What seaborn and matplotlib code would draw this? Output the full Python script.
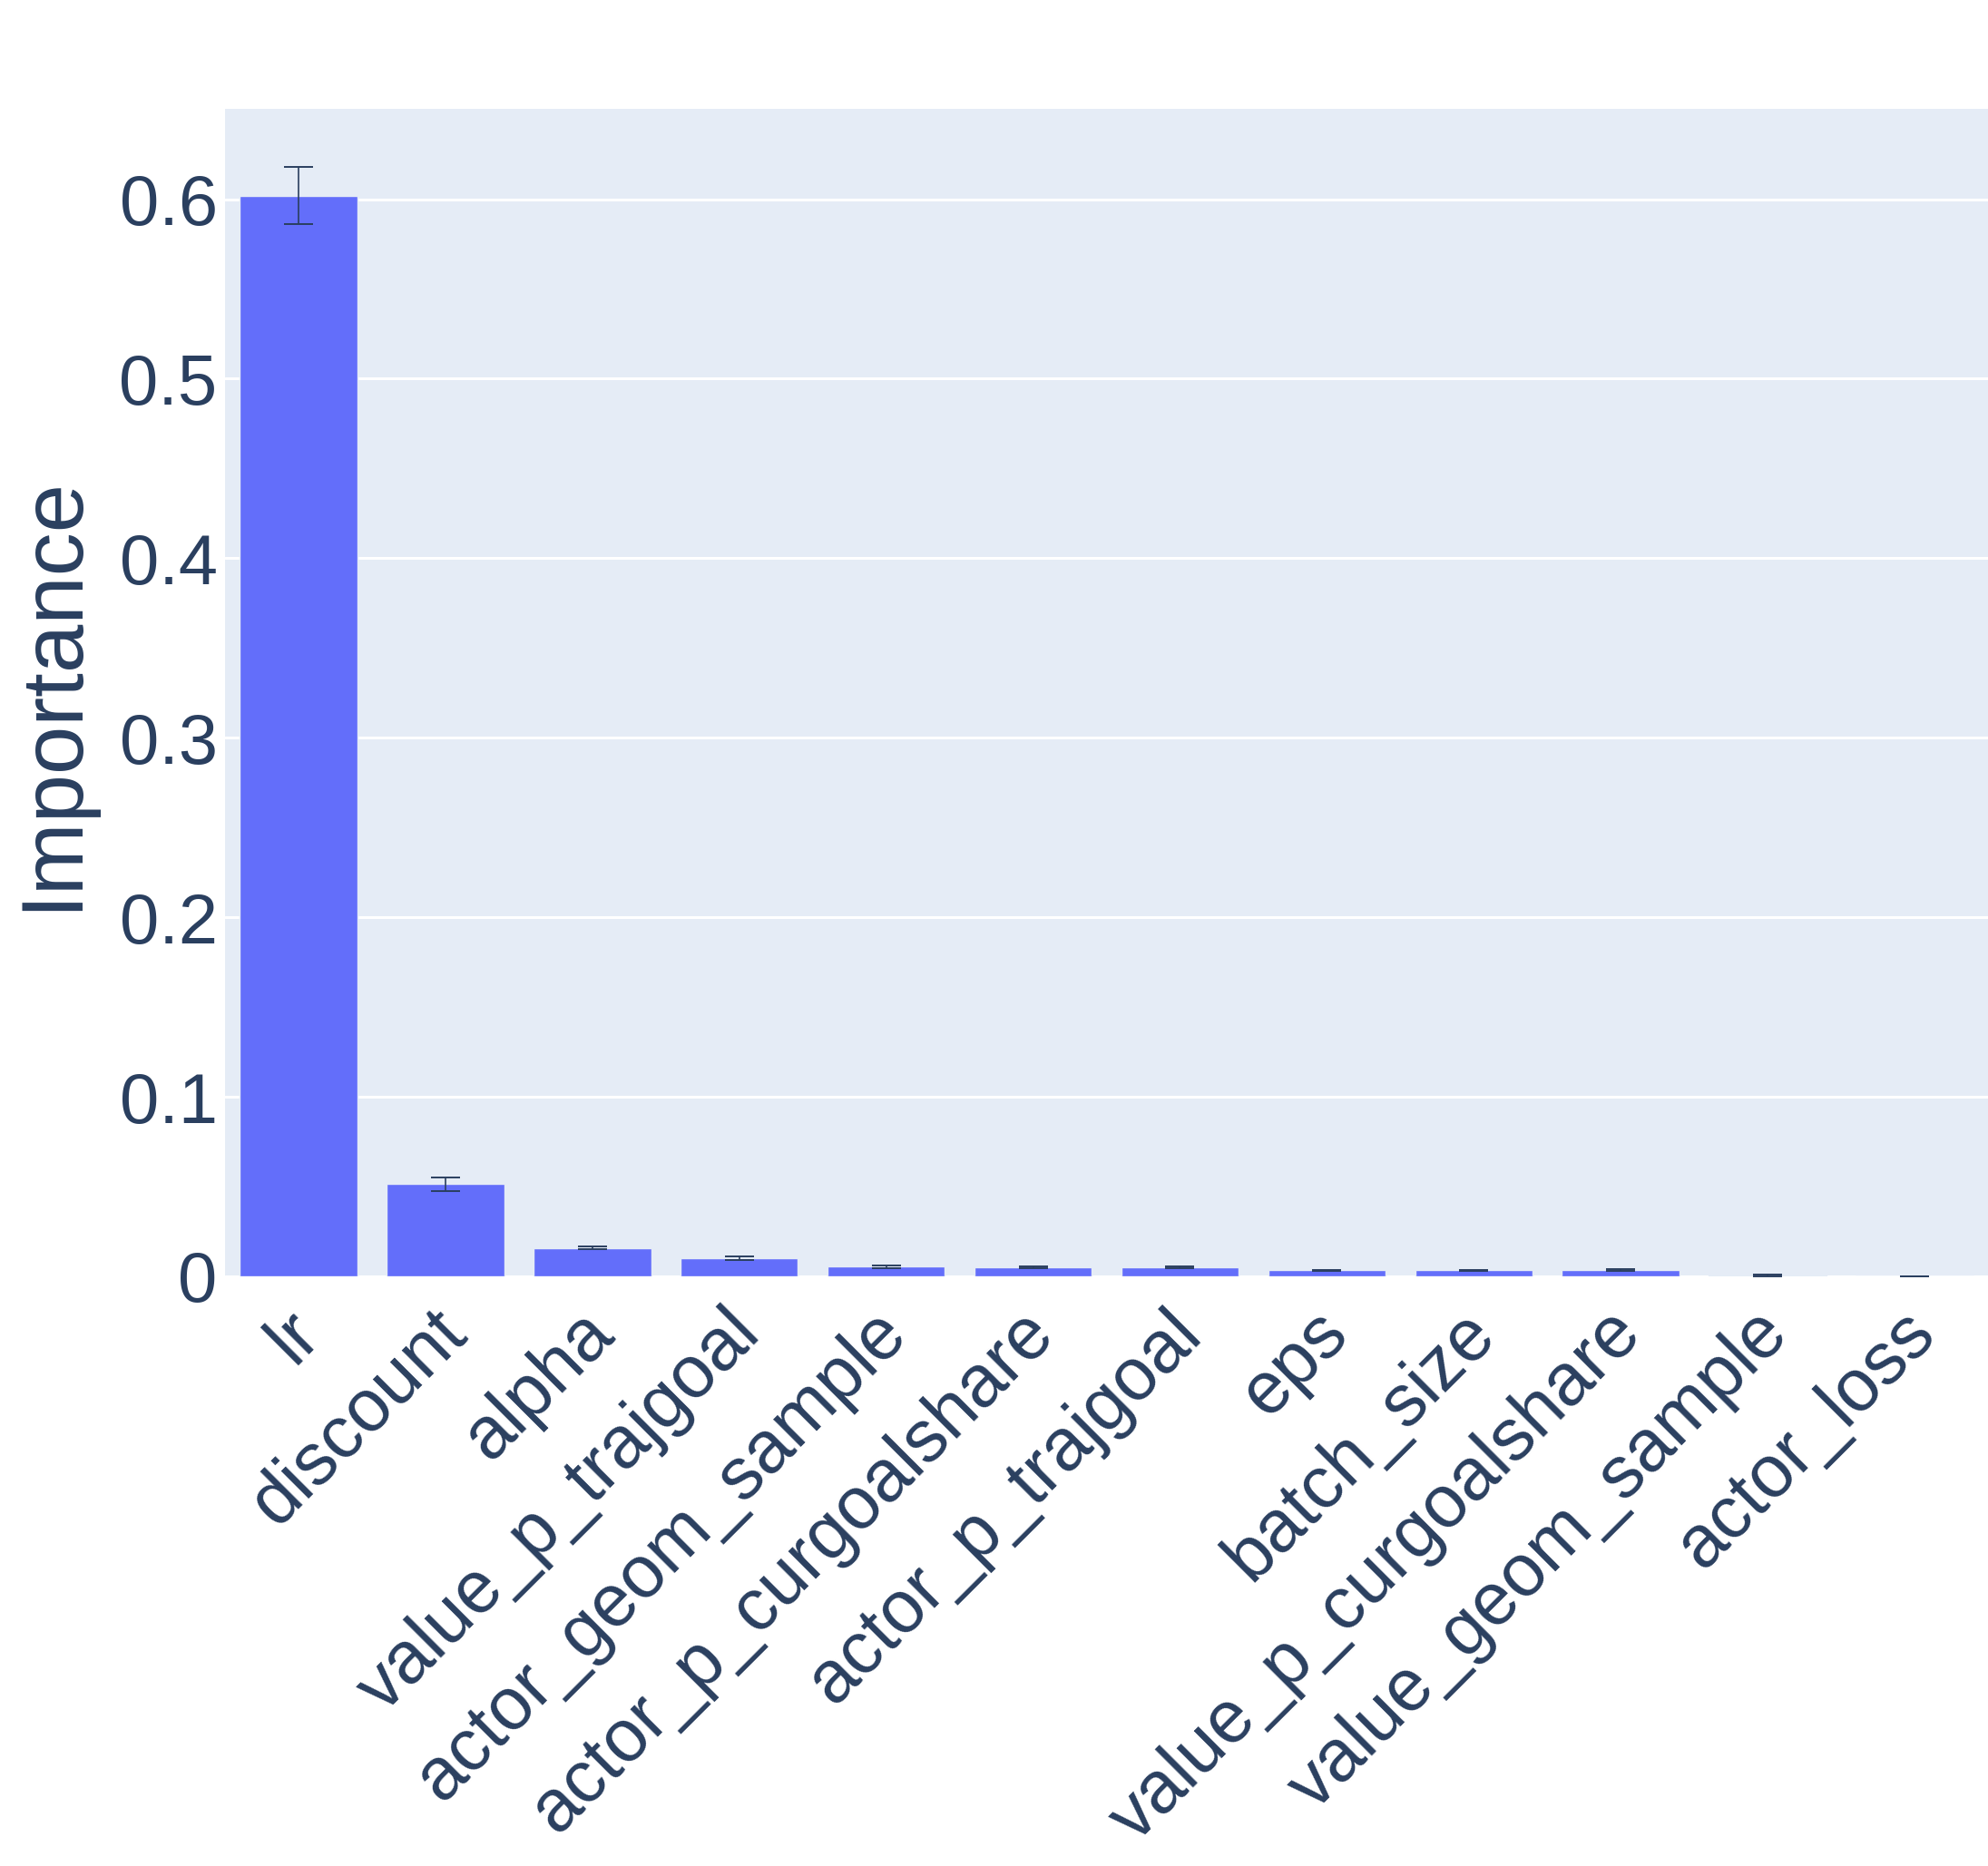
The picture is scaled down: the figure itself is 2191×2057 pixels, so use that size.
import matplotlib
matplotlib.use("Agg")
import matplotlib.pyplot as plt
import matplotlib.transforms as mtransforms
import seaborn as sns
import numpy as np
import pandas as pd

# ---- data ----
params = ["lr", "discount", "alpha", "value_p_trajgoal", "actor_geom_sample",
          "actor_p_curgoalshare", "actor_p_trajgoal", "eps", "batch_size",
          "value_p_curgoalshare", "value_geom_sample", "actor_loss"]
importance = [0.6019, 0.0514, 0.0158, 0.0101, 0.0054, 0.0052, 0.0052,
              0.0034, 0.0034, 0.0034, 0.0005, 0.0001]
importance_err = [0.0160, 0.0037, 0.0008, 0.0008, 0.0006, 0.0004, 0.0004,
                  0.0003, 0.0003, 0.0004, 0.0003, 0.0000]
ytick_values = [0, 0.1, 0.2, 0.3, 0.4, 0.5, 0.6]
ytick_labels = ["0", "0.1", "0.2", "0.3", "0.4", "0.5", "0.6"]

BAR = "#636EFA"
BG = "#E5ECF6"
TXT = "#2A3F5F"

sns.set_theme(style="white")
plt.rcParams["font.family"] = ["Liberation Sans", "DejaVu Sans"]

W, H = 2191, 2057
fig = plt.figure(figsize=(W / 100, H / 100), dpi=100)
ax = fig.add_axes([248 / W, 1 - 1407 / H, (W - 248) / W, (1407 - 120) / H])
ax.set_facecolor(BG)

df = pd.DataFrame({"param": params, "importance": importance})
sns.barplot(data=df, x="param", y="importance", color=BAR, saturation=1,
            width=0.8, errorbar=None, ax=ax, linewidth=1, edgecolor=BG, zorder=2)
ax.errorbar(x=np.arange(len(params)), y=importance, yerr=importance_err,
            fmt="none", ecolor=TXT, elinewidth=1.2, capsize=11.5, capthick=1.4,
            zorder=3)

ax.set_ylim(0, 0.6503)
ax.set_xlim(-0.5, len(params) - 0.5)
ax.set_yticks(ytick_values)
ax.set_yticklabels(ytick_labels)
ax.yaxis.grid(True, color="white", linewidth=2.2, zorder=0)
ax.set_axisbelow(True)
for s in ax.spines.values():
    s.set_visible(False)

ax.tick_params(axis="y", length=0, pad=6, labelsize=56, labelcolor=TXT)
ax.tick_params(axis="x", length=0, pad=30, labelsize=58, labelcolor=TXT)
offset = mtransforms.ScaledTranslation(11 / 100, -9 / 100, fig.dpi_scale_trans)
for lab in ax.get_xticklabels():
    lab.set_rotation(45)
    lab.set_ha("right")
    lab.set_va("center")
    lab.set_rotation_mode("anchor")
    lab.set_transform(lab.get_transform() + offset)

ax.set_xlabel("")
ax.set_ylabel("Importance", fontsize=69, color=TXT)
ax.yaxis.set_label_coords(-0.0745, 0.5)

fig.savefig("out.png", dpi=100, facecolor="white")
